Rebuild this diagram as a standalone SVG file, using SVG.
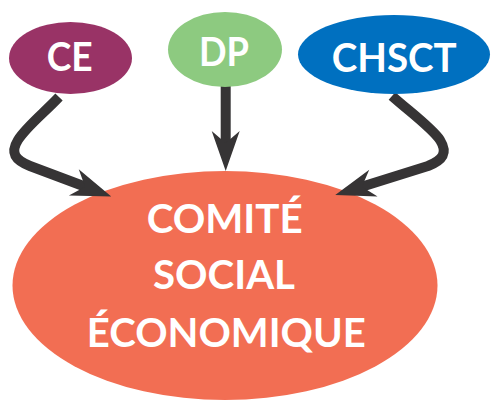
<svg xmlns="http://www.w3.org/2000/svg" width="491" height="401" viewBox="0 0 491 401">
<style>
.lbl{font-family:Lato,"Open Sans","Liberation Sans",sans-serif;font-weight:bold;font-size:40px;fill:#ffffff;text-anchor:middle}
.conn{fill:none;stroke:#363435;stroke-width:10;stroke-linejoin:round}
</style>
<defs>
<marker id="ah" viewBox="-42 -16 44 32" markerWidth="44" markerHeight="32" refX="-27" refY="0" orient="auto" markerUnits="userSpaceOnUse">
<path d="M0,0 L-40,-14 L-28,0 L-40,14 Z" fill="#363435"/>
</marker>
</defs>
<g id="cse">
<ellipse cx="225" cy="285.5" rx="212.5" ry="114.5" fill="#F26E53"/>
<text class="lbl" x="224.7" y="232.7" textLength="156" lengthAdjust="spacingAndGlyphs">COMITÉ</text>
<text class="lbl" x="224" y="289.3" textLength="142" lengthAdjust="spacingAndGlyphs">SOCIAL</text>
<text class="lbl" x="226.3" y="346.7" textLength="279" lengthAdjust="spacingAndGlyphs">ÉCONOMIQUE</text>
</g>
<g id="connectors">
<path class="conn" d="M59,97 C45,112 26,127 18,140 C10,153 15,160 30,166 L86,187" marker-end="url(#ah)"/>
<path class="conn" d="M225.7,85 L225.7,144" marker-end="url(#ah)"/>
<path class="conn" d="M392,96 C410,112 432,128 440,140 C448,153 443,160 428,166 L361,187" marker-end="url(#ah)"/>
</g>
<g id="ce">
<ellipse cx="70.5" cy="58" rx="61.5" ry="36" fill="#993366"/>
<text class="lbl" x="69.7" y="71" textLength="46" lengthAdjust="spacingAndGlyphs">CE</text>
</g>
<g id="dp">
<ellipse cx="225" cy="49.5" rx="57" ry="37.5" fill="#8DCA80"/>
<text class="lbl" x="224" y="65.7" textLength="50" lengthAdjust="spacingAndGlyphs">DP</text>
</g>
<g id="chsct">
<ellipse cx="394" cy="54.5" rx="96" ry="39.5" fill="#0070C0"/>
<text class="lbl" x="394.2" y="71.7" textLength="125" lengthAdjust="spacingAndGlyphs">CHSCT</text>
</g>
</svg>
